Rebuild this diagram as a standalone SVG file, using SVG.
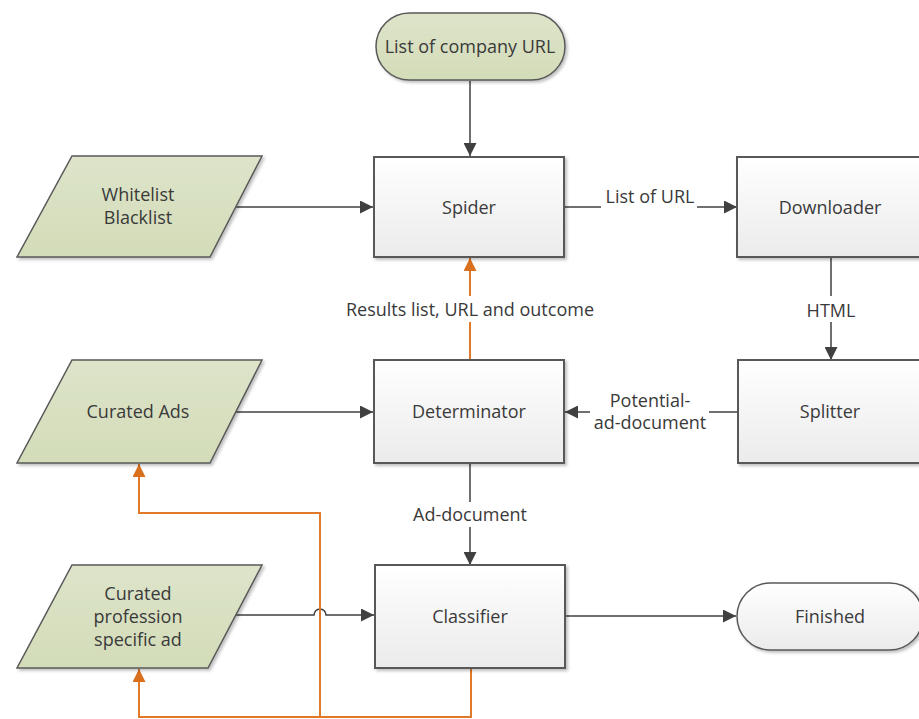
<svg xmlns="http://www.w3.org/2000/svg" width="919" height="719" viewBox="0 0 919 719">
<defs>
<linearGradient id="gBox" x1="0" y1="0" x2="0" y2="1">
<stop offset="0" stop-color="#ffffff"/>
<stop offset="1" stop-color="#ebebeb"/>
</linearGradient>
<linearGradient id="gGreen" x1="0" y1="0" x2="0" y2="1">
<stop offset="0" stop-color="#dde4ca"/>
<stop offset="1" stop-color="#d3dcb8"/>
</linearGradient>
<filter id="sh" x="-10%" y="-10%" width="130%" height="130%">
<feDropShadow dx="2" dy="2" stdDeviation="1.5" flood-color="#000" flood-opacity="0.25"/>
</filter>
<marker id="aG" viewBox="0 0 10 10" refX="10" refY="5" markerWidth="13" markerHeight="13" markerUnits="userSpaceOnUse" orient="auto">
<path d="M0,0 L10,5 L0,10 Z" fill="#404040"/>
</marker>
<marker id="aO" viewBox="0 0 10 10" refX="10" refY="5" markerWidth="13" markerHeight="13" markerUnits="userSpaceOnUse" orient="auto">
<path d="M0,0 L10,5 L0,10 Z" fill="#d9701e"/>
</marker>
</defs>
<style>
.box{fill:url(#gBox);stroke:#595959;stroke-width:2;filter:url(#sh)}
.io{fill:url(#gGreen);stroke:#595959;stroke-width:1.5;filter:url(#sh)}
.term{stroke:#595959;stroke-width:1.5;filter:url(#sh)}
text{font-family:"Open Sans","Noto Sans","DejaVu Sans",sans-serif;font-size:18px;fill:#3a3a3a;text-anchor:middle;dominant-baseline:central}
.c{fill:none;stroke:#404040;stroke-width:1.5}
.o{fill:none;stroke:#e07a2a;stroke-width:2}
</style>
<rect width="919" height="719" fill="#ffffff"/>

<g id="connectors">
<line class="c" x1="470" y1="81" x2="470" y2="156" marker-end="url(#aG)"/>
<line class="c" x1="236" y1="207" x2="373" y2="207" marker-end="url(#aG)"/>
<line class="c" x1="565" y1="207" x2="601" y2="207"/>
<line class="c" x1="697" y1="207" x2="737" y2="207" marker-end="url(#aG)"/>
<text x="650" y="196">List of URL</text>
<line class="c" x1="831" y1="257" x2="831" y2="296"/>
<line class="c" x1="831" y1="322" x2="831" y2="360" marker-end="url(#aG)"/>
<text x="831" y="310">HTML</text>
<line class="c" x1="738" y1="412" x2="709" y2="412"/>
<line class="c" x1="590" y1="412" x2="565" y2="412" marker-end="url(#aG)"/>
<text x="650" y="400">Potential-</text>
<text x="650" y="422">ad-document</text>
<line class="c" x1="236" y1="412" x2="373" y2="412" marker-end="url(#aG)"/>
<line class="o" x1="470" y1="360" x2="470" y2="322"/>
<line class="o" x1="470" y1="296" x2="470" y2="258" marker-end="url(#aO)"/>
<text x="470" y="309">Results list, URL and outcome</text>
<line class="c" x1="470" y1="463" x2="470" y2="502"/>
<line class="c" x1="470" y1="527" x2="470" y2="565" marker-end="url(#aG)"/>
<text x="470" y="514">Ad-document</text>
<path class="c" d="M236,615 L314,615 A6,6 0 0 1 326,615 L374,615" marker-end="url(#aG)"/>
<line class="c" x1="565" y1="616" x2="736" y2="616" marker-end="url(#aG)"/>
<path class="o" d="M471,668 L471,717 L139,717 L139,669" marker-end="url(#aO)"/>
<path class="o" d="M320,717 L320,513 L139,513 L139,464" marker-end="url(#aO)"/>
</g>

<g id="start">
<rect class="term" x="376" y="13" width="189" height="67" rx="33.5" fill="url(#gGreen)"/>
<text x="470" y="46">List of company URL</text>
</g>
<g id="whitelist">
<polygon class="io" points="72,156 262,156 210,257 17,257"/>
<text x="138" y="194">Whitelist</text>
<text x="138" y="217">Blacklist</text>
</g>
<g id="spider">
<rect class="box" x="374" y="157" width="190" height="100"/>
<text x="469" y="207">Spider</text>
</g>
<g id="downloader">
<rect class="box" x="737" y="157" width="190" height="100"/>
<text x="830" y="207">Downloader</text>
</g>
<g id="curated-ads">
<polygon class="io" points="72,360 262,360 210,463 17,463"/>
<text x="138" y="411">Curated Ads</text>
</g>
<g id="determinator">
<rect class="box" x="374" y="360" width="190" height="103"/>
<text x="469" y="411">Determinator</text>
</g>
<g id="splitter">
<rect class="box" x="738" y="360" width="190" height="103"/>
<text x="830" y="411">Splitter</text>
</g>
<g id="curated-profession">
<polygon class="io" points="72,565 262,565 208,668 17,668"/>
<text x="138" y="593">Curated</text>
<text x="138" y="616">profession</text>
<text x="138" y="639">specific ad</text>
</g>
<g id="classifier">
<rect class="box" x="375" y="565" width="190" height="103"/>
<text x="470" y="616">Classifier</text>
</g>
<g id="finished">
<rect class="term" x="737" y="583" width="186" height="67" rx="33.5" fill="url(#gBox)"/>
<text x="830" y="616">Finished</text>
</g>
</svg>
